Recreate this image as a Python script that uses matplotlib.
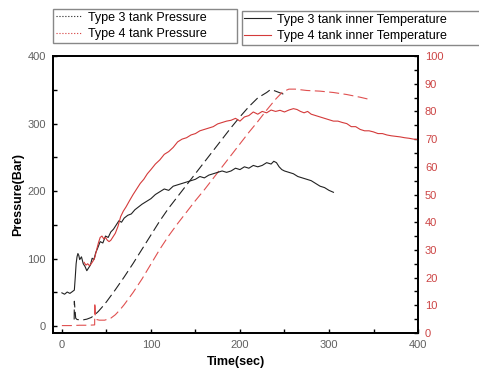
import matplotlib
matplotlib.use('Agg')
import matplotlib.pyplot as plt
from matplotlib.lines import Line2D
from matplotlib.ticker import MultipleLocator

plt.rcParams['font.family'] = ['Liberation Sans', 'DejaVu Sans']

# Type 3 tank pressure (dashed, left axis)
t3_p_time = [13.8, 14, 15.5, 17, 20, 24, 28, 33, 37, 41, 45, 50, 55, 60, 70, 80, 90,
             100, 110, 120, 130, 140, 150, 160, 170, 180, 190, 200, 210, 220, 230,
             234, 238, 244, 250]
t3_pressure = [10, 37, 12, 10, 9.5, 9.5, 10.5, 13, 17, 22, 28, 36, 45, 54, 73, 93, 114,
               135, 156, 175, 192, 209, 226, 243, 260, 277, 294, 310, 325, 338, 346,
               350, 349, 346, 343]

# Type 4 tank pressure (dashed, left axis)
t4_p_time = [0, 10, 20, 30, 36.8, 37, 37.5, 39, 42, 48, 55, 60, 65, 70, 75, 80, 90,
             100, 110, 120, 130, 140, 150, 160, 170, 180, 190, 200, 210, 220, 230,
             240, 248, 255, 262, 275, 290, 305, 320, 335, 348]
t4_pressure = [1, 1, 1.5, 1.5, 2, 35, 15, 10, 9, 9, 12, 17, 24, 32, 41, 50, 70,
               92, 114, 134, 152, 169, 186, 202, 219, 236, 253, 270, 287, 303, 320,
               336, 347, 351, 351, 349, 348, 346, 343, 339, 335]

# Type 3 tank inner temperature (solid, right axis)
t3_t_time = [0, 3, 6, 9, 12, 14, 15, 16, 17, 18, 19, 20, 22, 24, 26, 28, 30, 32, 34,
             36, 38, 40, 43, 46, 49, 52, 55, 58, 61, 64, 67, 70, 74, 78, 82, 86, 90,
             95, 100, 105, 110, 115, 120, 125, 130, 135, 140, 145, 150, 155, 160,
             165, 170, 175, 180, 185, 190, 195, 200, 205, 210, 215, 220, 225, 230,
             235, 238, 241, 244, 247, 250, 255, 260, 265, 270, 275, 280, 285, 290,
             295, 300, 305]
t3_temp = [14.5, 14.0, 14.8, 14.3, 15.0, 15.5, 20, 25, 27.5, 28.7, 28.0, 26.5, 27.5, 25,
           24, 22.5, 23.5, 24.5, 27, 26.5, 29, 30.5, 33, 32.5, 35, 34.5, 36.5, 37.5,
           39, 40.5, 40, 41.5, 42.5, 43, 44.5, 45.5, 46.5, 47.5, 48.5, 50, 51.0, 52,
           51.5, 53, 53.5, 54, 54.5, 55, 55.5, 56.5, 56, 57, 57.5, 58, 58.5, 58, 58.5,
           59.5, 59, 60, 59.5, 60.5, 60, 60.5, 61.5, 61, 62, 61.5, 60, 59, 58.5, 58,
           57.5, 56.5, 56, 55.5, 55, 54, 53, 52.5, 51.5, 50.8]

# Type 4 tank inner temperature (solid, right axis)
t4_t_time = [25, 27, 29, 31, 33, 35, 37, 39, 41, 43, 45, 47, 49, 51, 53, 55, 57, 60,
             63, 66, 69, 72, 76, 80, 84, 88, 92, 96, 100, 105, 110, 115, 120, 125,
             130, 135, 140, 145, 150, 155, 160, 165, 170, 175, 180, 185, 190, 195,
             200, 205, 210, 215, 220, 225, 230, 235, 240, 245, 250, 255, 260, 264,
             268, 272, 276, 280, 285, 290, 295, 300, 305, 310, 315, 320, 325, 330,
             335, 340, 345, 350, 355, 360, 365, 370, 375, 380, 385, 390, 395, 400]
t4_temp = [25.5, 24.5, 25, 24.3, 25, 26, 27.3, 30, 32.5, 34.5, 35, 34, 34.5, 33.5, 33,
           33.5, 34.5, 36, 38.5, 42, 44, 45.5, 47.8, 50, 52, 54, 55.5, 57.5, 59, 61,
           62.5, 64.5, 65.5, 67, 69, 70, 70.5, 71.5, 72, 73, 73.5, 74, 74.5, 75.5,
           76, 76.5, 76.8, 77.5, 76.5, 78, 78.5, 79.8, 79, 80, 79.5, 80.5, 80, 80.4,
           79.8, 80.5, 81, 80.7, 80, 79.5, 80, 79, 78.5, 78, 77.5, 77, 76.5, 76.5,
           76, 75.6, 74.5, 74.5, 73.5, 73, 73, 72.6, 72, 72, 71.5, 71.2, 71, 70.8,
           70.5, 70.3, 70, 69.8]

black = '#222222'
red = '#d43a3a'
grey = '#606060'

fig = plt.figure(figsize=(4.79, 3.71), dpi=100)
ax = fig.add_axes([0.1106, 0.1024, 0.7621, 0.7466])
ax2 = ax.twinx()

# pressure curves (dashed)
ax.plot(t3_p_time, t3_pressure, color=black, lw=0.8, dashes=(9, 4))
ax.plot(t4_p_time, t4_pressure, color='#e05050', lw=0.8, dashes=(9, 4))

# temperature curves (solid)
ax2.plot(t3_t_time, t3_temp, color=black, lw=0.8)
ax2.plot(t4_t_time, t4_temp, color=red, lw=0.8)

ax.set_xlim(-10, 400)
ax.set_ylim(-10, 400)
ax2.set_ylim(0, 100)

ax.xaxis.set_major_locator(MultipleLocator(100))
ax.xaxis.set_minor_locator(MultipleLocator(50))
ax.yaxis.set_major_locator(MultipleLocator(100))
ax.yaxis.set_minor_locator(MultipleLocator(50))
ax2.yaxis.set_major_locator(MultipleLocator(10))
ax2.yaxis.set_minor_locator(MultipleLocator(5))

for a in (ax, ax2):
    a.tick_params(which='both', direction='in', length=3, width=1, labelsize=8)
    for s in a.spines.values():
        s.set_linewidth(1.3)
ax.tick_params(labelcolor=grey, pad=5)
ax2.tick_params(labelcolor='#cc4444', pad=5)

ax.set_xlabel('Time(sec)', fontsize=9, fontweight='bold', labelpad=4)
ax.set_ylabel('Pressure(Bar)', fontsize=9, fontweight='bold', labelpad=2.5)

# legends in two boxes above the plot
left_handles = [Line2D([], [], color=black, ls=':', lw=0.8),
                Line2D([], [], color=red, ls=':', lw=0.8)]
right_handles = [Line2D([], [], color=black, lw=0.8),
                 Line2D([], [], color=red, lw=0.8)]

leg_kw = dict(loc='upper left', mode='expand', borderaxespad=0, fontsize=9,
              fancybox=False, edgecolor='#888888', framealpha=1, borderpad=0.2,
              labelspacing=0.4, handlelength=2.1, handletextpad=0.5)
leg1 = fig.legend(left_handles, ['Type 3 tank Pressure', 'Type 4 tank Pressure'],
                  bbox_to_anchor=(53 / 479, 1 - 9 / 371 - 0.01, 184 / 479, 0.01), **leg_kw)
leg1.get_frame().set_linewidth(1)
leg2 = fig.legend(right_handles, ['Type 3 tank inner Temperature', 'Type 4 tank inner Temperature'],
                  bbox_to_anchor=(242 / 479, 1 - 11 / 371 - 0.01, 240 / 479, 0.01), **leg_kw)
leg2.get_frame().set_linewidth(1)

fig.savefig('out.png', dpi=100)
